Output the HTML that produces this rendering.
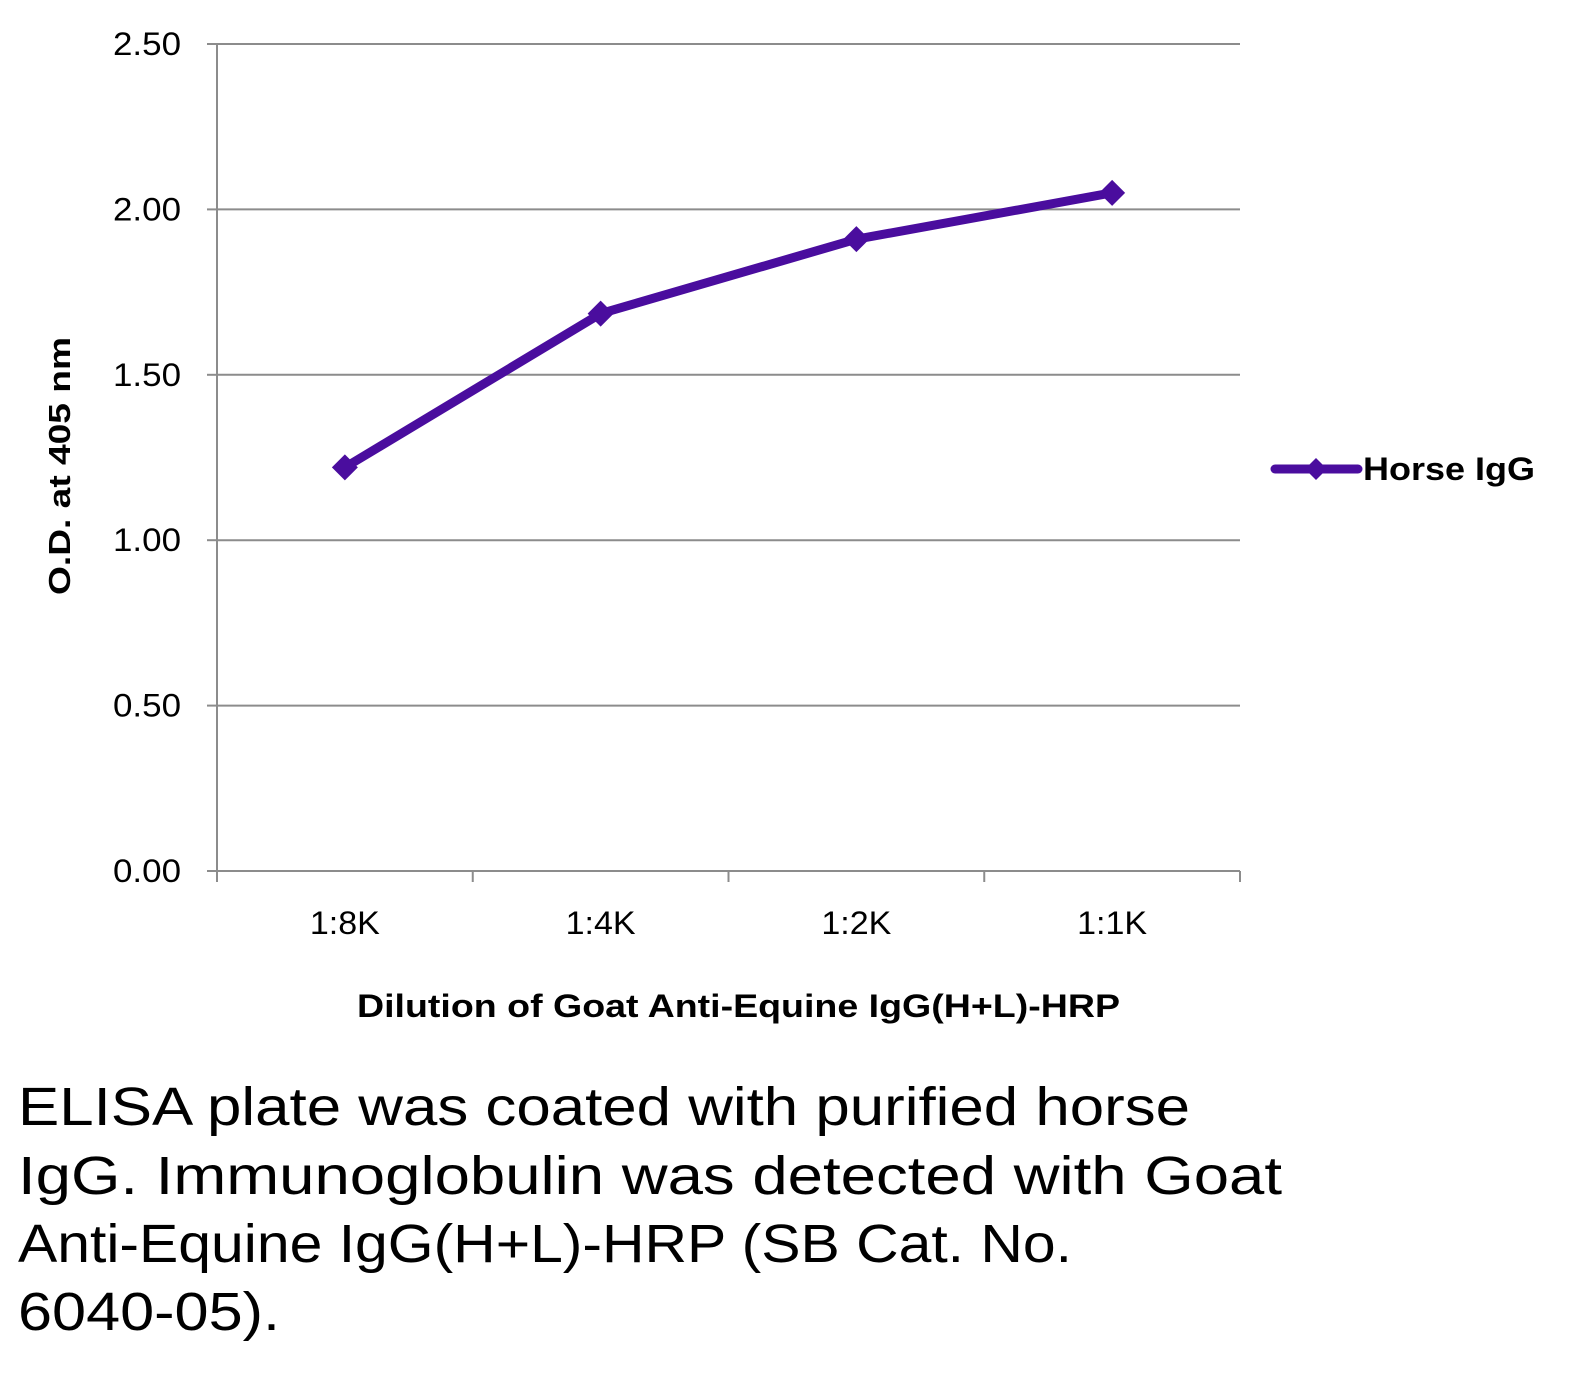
<!DOCTYPE html>
<html><head><meta charset="utf-8"><style>
html,body{margin:0;padding:0;background:#fff;}
svg{display:block;font-family:"Liberation Sans",sans-serif;}
</style></head><body>
<svg width="1586" height="1374" viewBox="0 0 1586 1374">
<g id="grid"></g>
<g id="yticks"></g>
<g id="xticks"></g>
<g id="series"></g>
<text transform="translate(70,466) rotate(-90)" text-anchor="middle" font-size="31" font-weight="bold" textLength="258" lengthAdjust="spacingAndGlyphs">O.D. at 405 nm</text>
<text x="357" y="1017" font-size="32" font-weight="bold" textLength="763" lengthAdjust="spacingAndGlyphs">Dilution of Goat Anti-Equine IgG(H+L)-HRP</text>
<g>
<line x1="1275" y1="469" x2="1358" y2="469" stroke="#4a0d9e" stroke-width="9" stroke-linecap="round"/>
<polygon points="1316,458 1327,469 1316,480 1305,469" fill="#4a0d9e"/>
<text x="1363" y="480" font-size="32" font-weight="bold" textLength="172" lengthAdjust="spacingAndGlyphs">Horse IgG</text>
</g>
<g font-size="54" fill="#000">
<text x="18" y="1125" textLength="1172" lengthAdjust="spacingAndGlyphs">ELISA plate was coated with purified horse</text>
<text x="18" y="1194" textLength="1264" lengthAdjust="spacingAndGlyphs">IgG.  Immunoglobulin was detected with Goat</text>
<text x="18" y="1262" textLength="1054" lengthAdjust="spacingAndGlyphs">Anti-Equine IgG(H+L)-HRP (SB Cat. No.</text>
<text x="18" y="1330" textLength="262" lengthAdjust="spacingAndGlyphs">6040-05).</text>
</g>
</svg>
<script>
const categories = ["1:8K","1:4K","1:2K","1:1K"];
const values = [1.22, 1.685, 1.91, 2.05];
const yTicks = [0, 0.5, 1.0, 1.5, 2.0, 2.5];
const yTickLabels = ["0.00","0.50","1.00","1.50","2.00","2.50"];
const NS="http://www.w3.org/2000/svg";
const L=217,R=1240,T=44,B=871,YMAX=2.5;
const y=v=>B-(v/YMAX)*(B-T);
const bw=(R-L)/categories.length;
const x=i=>L+bw*(i+0.5);
function mk(tag,attrs,parent){const e=document.createElementNS(NS,tag);for(const k in attrs)e.setAttribute(k,attrs[k]);parent.appendChild(e);return e;}
const grid=document.getElementById('grid'),yt=document.getElementById('yticks'),xt=document.getElementById('xticks'),ser=document.getElementById('series');
yTicks.forEach((v,i)=>{
  const gl=mk('line',{x1:L,x2:R,y1:y(v),y2:y(v),stroke:'#8c8c8c','stroke-width':2},grid);
  
  
  const tk=mk('line',{x1:L-10,x2:L,y1:y(v),y2:y(v),stroke:'#8c8c8c','stroke-width':2},yt);
  
  
  const t=mk('text',{x:181,y:y(v)+11,'text-anchor':'end','font-size':32,textLength:68,lengthAdjust:'spacingAndGlyphs'},yt);
  t.textContent=yTickLabels[i];
  
  
});
const ax=mk('line',{x1:L,x2:L,y1:T,y2:B,stroke:'#8c8c8c','stroke-width':2},grid);


for(let i=0;i<=categories.length;i++){
  const tk=mk('line',{x1:L+bw*i,x2:L+bw*i,y1:B,y2:B+11,stroke:'#8c8c8c','stroke-width':2},xt);
  
  
}
categories.forEach((c,i)=>{
  const t=mk('text',{x:x(i),y:934,'text-anchor':'middle','font-size':32,textLength:70,lengthAdjust:'spacingAndGlyphs'},xt);
  t.textContent=c;
  
  
});
const pts=values.map((v,i)=>x(i)+','+y(v)).join(' ');
const pl=mk('polyline',{points:pts,fill:'none',stroke:'#4a0d9e','stroke-width':9,'stroke-linejoin':'round','stroke-linecap':'round'},ser);


values.forEach((v,i)=>{
  const cx=x(i),cy=y(v);
  const p=mk('polygon',{points:`${cx},${cy-13} ${cx+13},${cy} ${cx},${cy+13} ${cx-13},${cy}`,fill:'#4a0d9e'},ser);
  
  
});
</script>
</body></html>
